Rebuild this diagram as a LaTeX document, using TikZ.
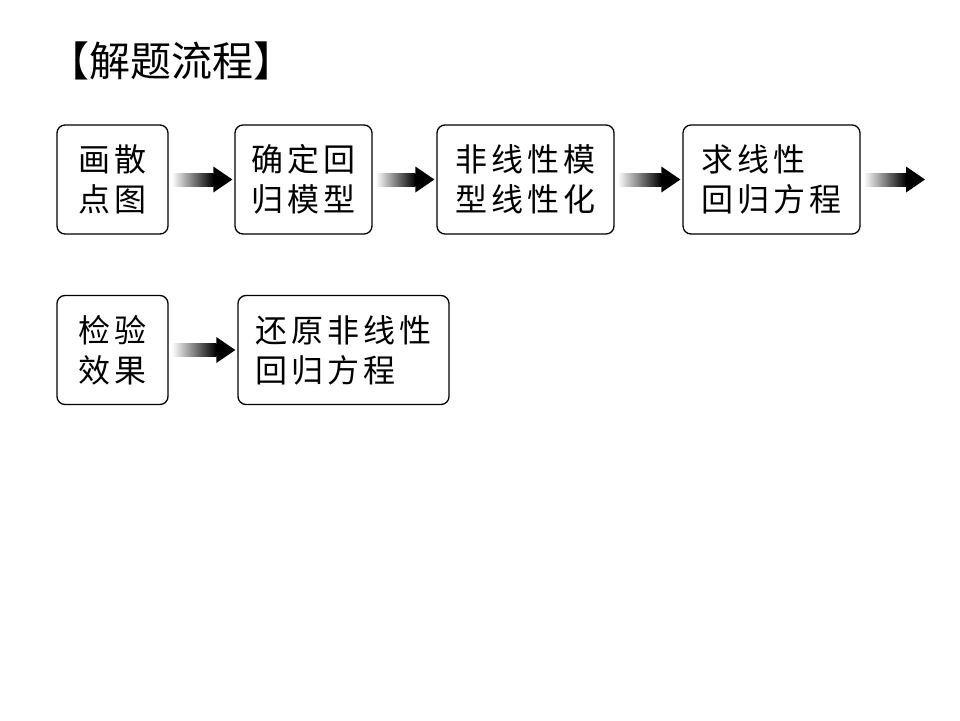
\documentclass[tikz,border=0pt]{standalone}
\usepackage{fontspec}
\setmainfont{Noto Sans CJK SC}
\newfontfamily\boxfont[LetterSpace=13]{Noto Sans CJK SC}

\tikzset{
  stepbox/.style={draw, line width=1.3pt, rounded corners=8pt, minimum height=109pt,
    inner sep=0pt, align=left, font=\boxfont\fontsize{32}{40}\selectfont},
}
% shaded arrow: from node #1 to point #2
\newcommand{\flowarrow}[2]{%
  \shade[left color=white, middle color=black, right color=black]
    ([xshift=3pt,yshift=-6.5pt]#1.east) rectangle ([xshift=-21pt,yshift=6.5pt]#2);
  \fill ([xshift=-21pt,yshift=-13pt]#2) -- ([xshift=-2pt]#2) -- ([xshift=-21pt,yshift=13pt]#2) -- cycle;
}

\begin{document}
\begin{tikzpicture}[x=1pt, y=-1pt]
\useasboundingbox (0,0) rectangle (960,720);
\node[inner sep=0pt, font=\fontsize{41}{41}\selectfont] (title) at (171,61) {【解题流程】};
\node[stepbox, minimum width=111pt] (scatter) at (112.5,179.5) {画散\\点图};
\node[stepbox, minimum width=137pt] (model) at (303.5,179.5) {确定回\\归模型};
\node[stepbox, minimum width=177pt] (linear) at (525.5,179.5) {非线性模\\型线性化};
\node[stepbox, minimum width=177pt] (regress) at (771.5,179.5) {求线性\\回归方程};
\coordinate (next) at (927,179.5);
\node[stepbox, minimum width=111pt] (check) at (112.5,350) {检验\\效果};
\node[stepbox, minimum width=211pt] (restore) at (343.5,350) {还原非线性\\回归方程};
\flowarrow{scatter}{model.west}
\flowarrow{model}{linear.west}
\flowarrow{linear}{regress.west}
\flowarrow{regress}{next}
\flowarrow{check}{restore.west}
\end{tikzpicture}
\end{document}
